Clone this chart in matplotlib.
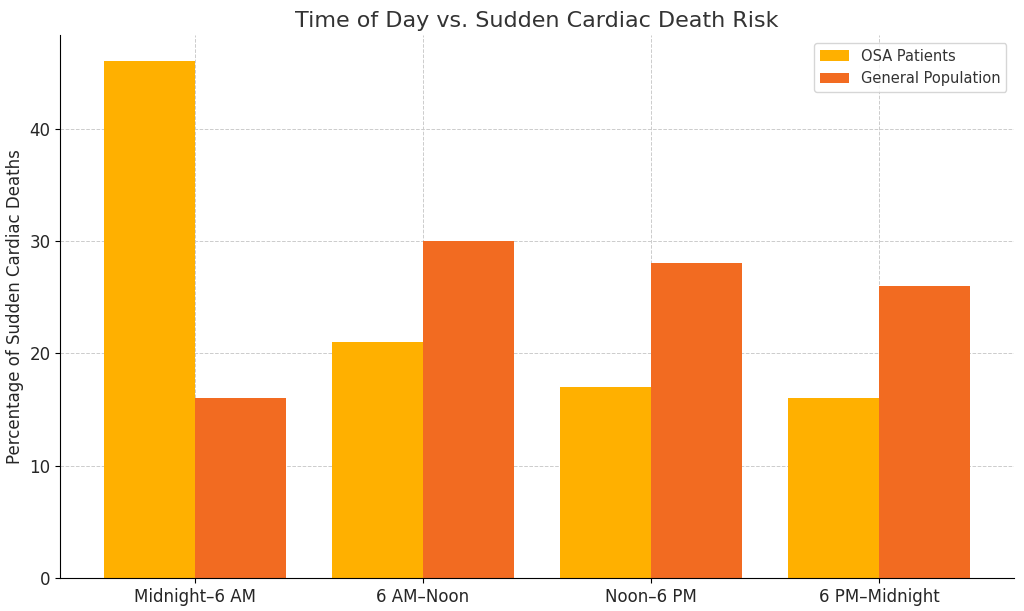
import numpy as np
import matplotlib
matplotlib.use("Agg")
import matplotlib.pyplot as plt

periods = ["Midnight–6 AM", "6 AM–Noon", "Noon–6 PM", "6 PM–Midnight"]
osa_patients = [46, 21, 17, 16]
general_population = [16, 30, 28, 26]

fig, ax = plt.subplots(figsize=(10.24, 6.11), dpi=100)
x = np.arange(len(periods))
w = 0.4

ax.bar(x - w / 2, osa_patients, w, color="#FFB000", label="OSA Patients", zorder=2)
ax.bar(x + w / 2, general_population, w, color="#F26B21", label="General Population", zorder=2)

ax.set_xticks(x)
ax.set_xticklabels(periods, fontsize=12, color="#262626")
ax.tick_params(axis="y", labelsize=12, labelcolor="#262626")
ax.set_ylabel("Percentage of Sudden Cardiac Deaths", fontsize=12, color="#262626")
ax.set_title("Time of Day vs. Sudden Cardiac Death Risk", fontsize=16, color="#333333")

ax.grid(True, linestyle="--", linewidth=0.7, color="#cccccc", zorder=0)
ax.set_axisbelow(True)
for s in ["top", "right"]:
    ax.spines[s].set_visible(False)

ax.legend(loc="upper right", fontsize=10.5, labelcolor="#333333")

plt.subplots_adjust(left=0.059, right=0.99, top=0.942, bottom=0.054)
plt.savefig("out.png", dpi=100)
